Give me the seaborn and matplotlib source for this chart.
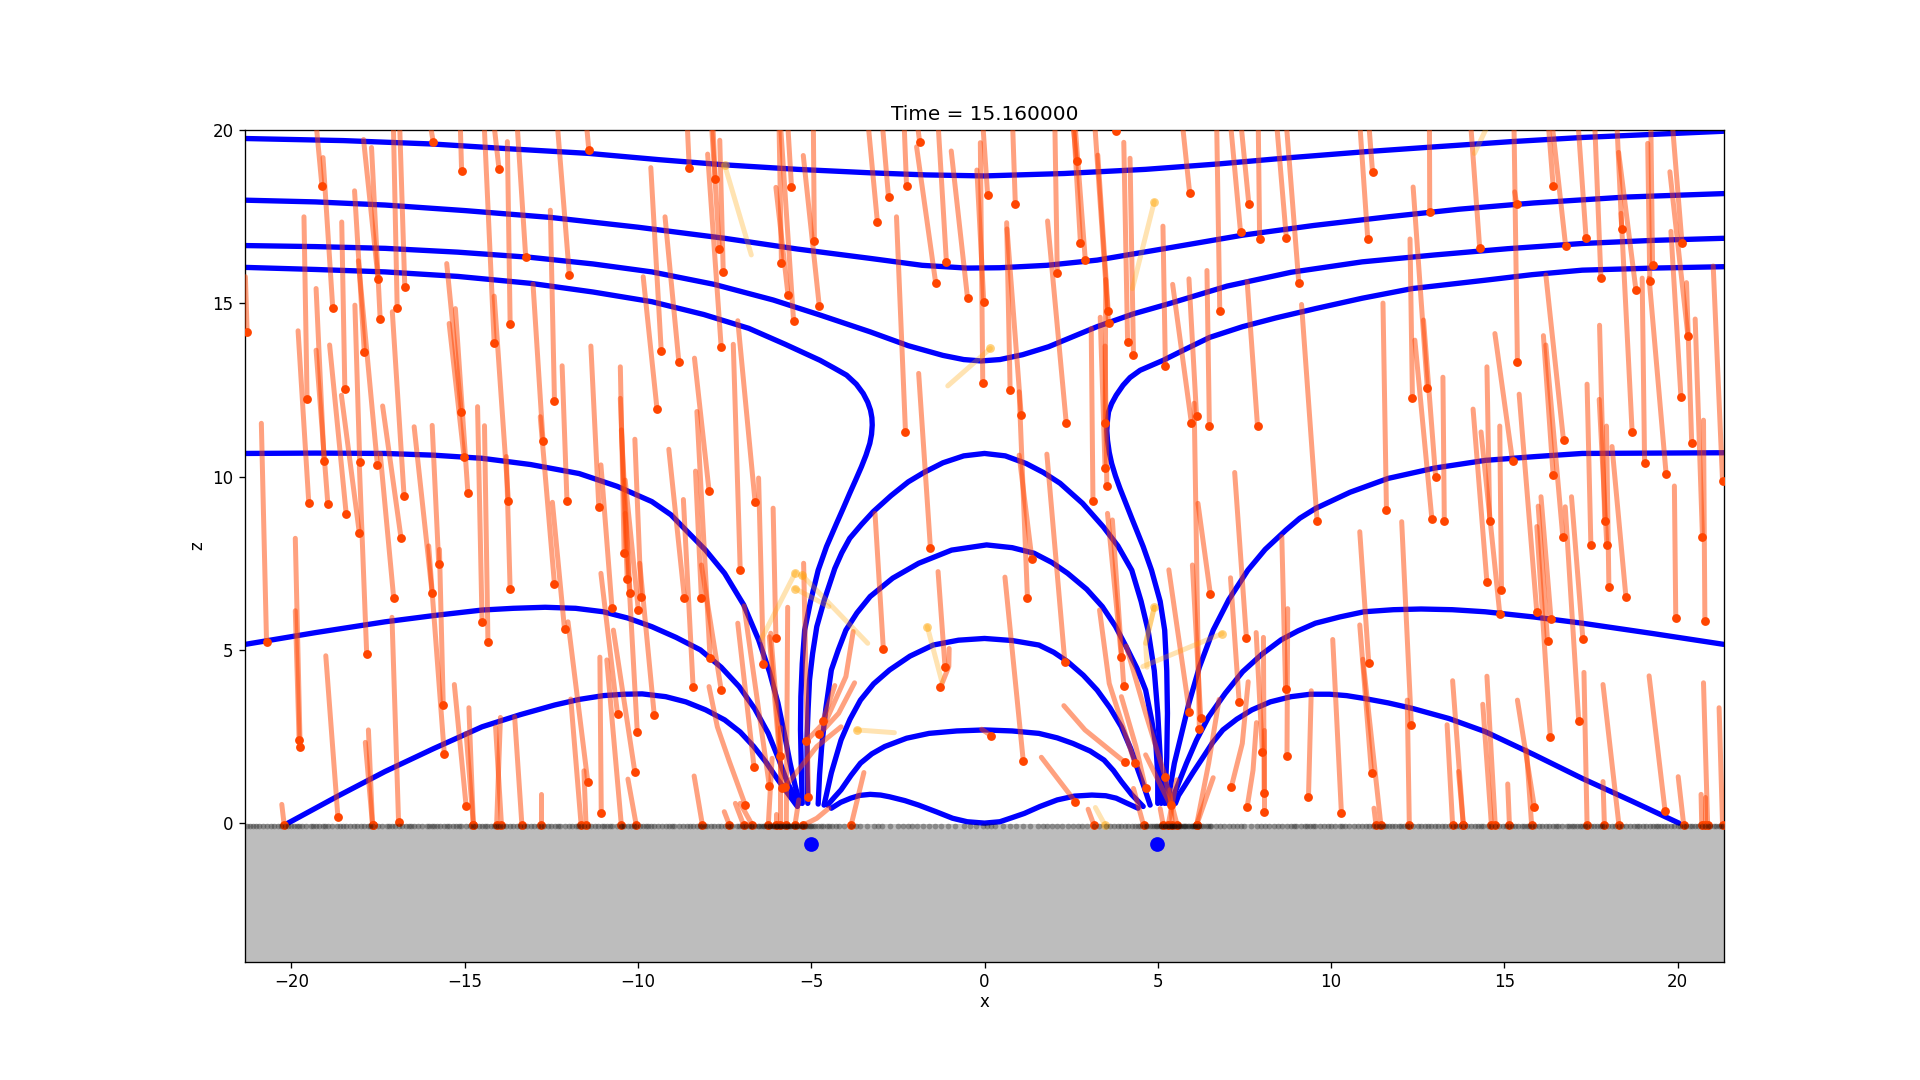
import pandas as pd
import matplotlib
matplotlib.use("Agg")
import matplotlib.pyplot as plt
import seaborn as sns

# tracers: (head x, head z, tail x, tail z)
tracers_upper_left = [
    (-21.28,14.17,-21.33,15.77),(-19.12,18.38,-19.29,20.2),(-18.81,14.88,-19.09,19.21),(-19.55,12.23,-19.64,17.5),
    (-18.46,12.52,-18.55,17.35),(-17.5,15.71,-17.92,19.73),(-17.44,14.54,-17.69,19.5),(-16.95,14.88,-17.06,20.2),
    (-16.73,15.46,-16.88,20.2),(-17.9,13.61,-18.18,18.25),(-17.52,10.33,-18.07,16.23),(-15.91,19.66,-16,20.2),
    (-15.09,18.81,-15.13,20.2),(-14.01,18.87,-14.16,20.2),(-14.15,13.85,-14.44,20.2),(-13.69,14.42,-13.77,19.67),
    (-13.24,16.33,-13.49,20.2),(-11.98,15.81,-12.33,20.2),(-11.42,19.44,-11.49,20.2),(-12.41,12.17,-12.53,17.69),
    (-12.74,11.02,-13.03,15.56),(-15.1,11.87,-15.52,16.15),(-15.02,10.57,-15.45,14.42),(-19.06,10.46,-19.29,15.43),
    (-18.03,10.41,-18.17,14.95),(-19.5,9.23,-19.81,14.21),(-18.95,9.2,-19.29,13.65),(-18.42,8.91,-18.9,13.8),
    (-16.75,9.43,-17.09,14.76),(-18.04,8.36,-18.56,12.35),(-16.84,8.24,-17.37,12.04),(-14.91,9.54,-15.27,14.85),
    (-13.74,9.31,-14.15,15.21),(-12.05,9.31,-12.19,13.2),(-11.13,9.12,-11.36,13.77),(-9.45,11.94,-9.85,15.77),
    (-9.33,13.64,-9.63,18.92),(-8.82,13.3,-9.22,17.5),(-8.52,18.9,-8.58,20.2),(-7.77,18.6,-7.84,20.2),
    (-7.65,16.56,-7.88,20.2),(-7.54,15.92,-7.64,19.71),(-7.6,13.75,-7.99,19.31),(-7.95,9.6,-8.37,13.42),
    (-6.62,9.26,-7.12,14.5),(-5.86,16.17,-5.93,20.2),(-5.67,15.25,-6.02,18.35),(-5.57,18.37,-5.68,20.2),
    (-5.51,14.5,-5.89,20.2),(-4.91,16.79,-4.94,20.2),(-4.77,14.94,-5.23,19.27),(-3.09,17.34,-3.36,20.2),
    (-2.77,18.06,-2.95,20.2),(-2.25,18.4,-2.32,20.2),(-1.87,19.65,-1.94,20.2),(-1.41,15.6,-1.96,19.52),
    (-1.1,16.21,-1.34,20.2),(-0.49,15.16,-0.96,19.4),(-2.28,11.28,-2.54,17.5),(-0.05,12.69,-0.12,19.64),
    (-0.02,15.03,-0.22,18.85),(0.09,18.14,-0.05,20.2),
]
tracers_lower_left = [
    (-20.72,5.22,-20.87,11.54),(-17.83,4.89,-18.04,10.29),(-17.05,6.49,-17.44,10.67),(-15.94,6.63,-16.46,11.44),
    (-15.75,7.47,-15.94,11.48),(-15.62,3.4,-15.73,7.9),(-15.59,2.0,-16.04,8.0),(-14.5,5.8,-14.63,12.02),
    (-14.33,5.22,-14.43,11.47),(-13.69,6.75,-13.8,10.58),(-12.41,6.89,-12.82,11.73),(-12.12,5.59,-12.47,9.26),
    (-10.75,6.2,-11.07,10.34),(-10.4,7.79,-10.51,13.17),(-10.31,7.04,-10.51,12.26),(-10.23,6.63,-10.48,11.35),
    (-9.99,6.15,-10.37,9.9),(-9.91,6.54,-10.09,11.08),(-8.66,6.49,-9.11,10.79),(-8.17,6.49,-8.34,10.16),
    (-8.41,3.94,-8.69,9.34),(-7.92,4.76,-8.3,11.88),(-7.6,3.85,-8.17,7.45),(-7.05,7.32,-7.25,13.82),
    (-6.38,4.58,-6.52,9.96),(-6.02,5.33,-6.1,9.09),(-2.92,5.04,-3.16,8.94),(-1.56,7.93,-1.9,12.98),
    (-1.14,4.52,-1.34,7.26),(0.2,2.52,-0.08,2.71),(-19.78,2.4,-19.89,6.13),(-19.75,2.21,-19.89,8.22),
    (-14.96,0.49,-15.3,4.0),(-18.66,0.17,-19.01,4.83),(-16.91,0.04,-17.1,5.94),(-20.21,-0.06,-20.28,0.54),
    (-17.66,-0.06,-17.78,2.69),(-17.66,-0.06,-17.87,2.33),(-14.75,-0.06,-14.88,3.33),(-14.75,-0.06,-14.96,2.59),
    (-14.08,-0.06,-13.97,3.05),(-13.94,-0.06,-14.11,2.78),(-13.35,-0.06,-13.56,3.07),(-12.81,-0.06,-12.81,0.83),
    (-11.64,-0.06,-11.94,3.58),(-11.5,-0.06,-11.56,1.51),(-11.45,1.2,-12.02,5.81),(-11.06,0.28,-11.1,4.79),
    (-10.59,3.14,-11.07,7.21),(-10.02,2.62,-10.37,8.94),(-10.09,1.47,-10.71,5.57),(-9.53,3.11,-9.95,7.5),
    (-10.48,-0.06,-10.9,4.71),(-10.05,-0.06,-10.29,1.27),(-8.14,-0.06,-8.38,1.36),(-7.36,-0.06,-7.51,0.33),
    (-6.95,-0.06,-7.19,0.57),(-6.7,-0.06,-7.05,0.57),(-6.65,1.61,-7.12,5.77),(-6.21,1.08,-6.94,6.27),
    (-5.83,1.0,-6.21,5.38),(-5.89,1.95,-6.17,5.48),(-6.03,-0.06,-6.03,0.26),(-6.24,-0.06,-6.13,1.87),
    (-5.72,-0.06,-5.68,6.23),(-5.89,-0.06,-5.89,2.78),(-5.08,0.76,-5.22,7.5),(-4.67,2.94,-4.32,3.97),
    (-3.85,-0.06,-3.48,1.46),(-5.47,-0.06,-5.36,0.67),
]
tracers_upper_right = [
    (0.89,17.86,0.81,20.2),(2.66,19.1,2.55,20.2),(2.77,16.73,2.57,20.2),(2.91,16.24,2.61,20.2),
    (2.1,15.89,2.03,20.2),(2.36,11.54,1.82,17.38),(3.8,19.97,3.75,20.3),(3.57,14.77,3.27,19.28),
    (3.58,14.43,3.18,20.2),(4.13,13.9,4.02,19.65),(4.3,13.5,4.2,19.19),(3.48,11.54,3.5,15.69),
    (3.48,10.24,3.34,14.6),(3.53,9.72,3.48,13.77),(3.13,9.31,3.08,14.28),(0.74,12.49,0.64,17.33),
    (1.06,11.77,0.65,17.15),(5.22,13.18,5.15,17.23),(5.92,18.2,5.71,20.2),(6.79,14.77,6.7,20.2),
    (7.39,17.05,7.1,20.2),(7.63,17.86,7.4,20.2),(7.94,16.87,7.9,20.2),(8.71,16.9,8.43,20.2),
    (9.07,15.6,8.71,20.2),(5.97,11.56,5.43,15.55),(6.12,11.74,5.9,15.71),(6.49,11.45,6.42,15.95),
    (7.88,11.45,7.58,15.63),(9.6,8.71,9.15,14.97),(11.06,16.87,10.83,20.2),(11.2,18.78,11.09,20.2),
    (11.6,9.05,11.5,15.01),(12.35,12.26,12.28,16.86),(12.78,12.55,12.37,18.36),(12.85,17.65,12.84,20.2),
    (13.02,9.98,12.67,14.52),(12.91,8.79,12.42,13.94),(13.27,8.71,13.23,12.87),(14.29,16.61,14.03,20.2),
    (14.58,8.71,14.5,13.17),(15.24,10.44,14.73,14.13),(15.38,13.32,15.28,20.2),(15.36,17.86,15.3,18.22),
    (16.41,18.4,16.27,20.2),(16.77,16.67,16.38,20.2),(17.36,16.9,17.13,20.2),(17.79,15.72,17.61,20.2),
    (18.39,17.16,18.25,20.2),(18.8,15.39,18.3,19.36),(19.2,15.66,19.14,19.62),(19.28,16.12,19.23,20.2),
    (20.13,16.73,19.85,20.2),(20.1,12.29,19.81,17.08),(20.3,14.07,19.78,18.8),(20.41,10.96,20.26,15.6),
    (18.69,11.3,18.37,17.6),(19.05,10.38,18.98,15.73),(19.67,10.09,19.18,15.73),(16.41,10.06,16.13,14.07),
    (16.71,11.05,16.2,15.82),(17.9,8.71,17.75,14.37),(20.72,8.26,20.51,14.55),(21.3,9.87,21.03,16.08),
    (16.69,8.26,16.2,13.8),
]
tracers_lower_right = [
    (1.37,7.61,1.0,10.62),(1.24,6.49,1.0,12.45),(2.32,4.64,1.8,10.65),(6.52,6.6,6.16,9.23),
    (5.91,3.22,5.32,7.31),(6.24,3.04,6.0,7.45),(6.2,2.71,6.05,12.12),(7.56,5.33,7.22,10.12),
    (7.35,3.49,7.1,7.08),(1.12,1.78,0.59,7.1),(3.95,4.8,3.55,8.94),(4.02,3.95,3.69,8.75),
    (2.62,0.62,1.64,1.9),(3.16,-0.06,2.99,0.4),(4.59,-0.06,4.3,1.0),(5.37,0.51,4.65,1.97),
    (5.16,-0.06,5.07,0.42),(5.3,-0.06,5.55,1.25),(5.42,-0.06,5.35,0.96),(5.56,-0.06,5.2,1.34),
    (6.12,-0.06,6.6,1.31),(8.69,3.86,8.58,8.27),(8.02,2.04,7.84,5.5),(8.07,0.88,8.05,5.36),
    (8.07,0.33,8.07,2.69),(8.73,1.95,8.75,6.19),(9.35,0.75,9.43,3.82),(10.3,0.3,10.05,5.3),
    (11.09,4.61,10.83,8.41),(11.17,1.44,10.83,5.72),(11.44,-0.06,10.92,4.73),(11.3,-0.06,11.24,0.43),
    (12.32,2.82,12.04,8.7),(12.26,-0.06,12.2,3.55),(13.51,-0.06,13.35,2.84),(13.82,-0.06,13.51,4.11),
    (13.82,-0.06,13.68,1.49),(14.5,6.95,14.1,11.95),(14.92,6.72,14.87,11.46),(14.87,6.05,14.33,11.29),
    (15.94,6.08,15.43,12.38),(16.25,5.25,15.98,9.15),(16.35,5.88,16.06,9.42),(17.5,8.02,17.39,12.67),
    (17.96,8.02,17.74,12.23),(18.02,6.82,17.95,11.46),(18.51,6.54,18.11,10.87),(19.95,5.91,19.91,9.73),
    (20.79,5.83,20.75,11.63),(17.27,5.3,16.94,9.42),(17.15,2.94,16.76,9.13),(16.33,2.48,15.94,8.56),
    (15.87,0.46,15.38,3.55),(17.39,-0.06,17.3,4.35),(17.89,-0.06,17.85,1.2),(18.31,-0.06,17.85,4.0),
    (15.15,-0.06,15.1,1.13),(15.79,-0.06,15.64,2.11),(14.63,-0.06,14.38,3.43),(14.74,-0.06,14.5,4.24),
    (19.64,0.36,19.18,4.25),(20.18,-0.06,20.02,1.34),(20.7,-0.06,20.68,0.83),(20.87,-0.06,20.75,4.05),
    (20.79,-0.06,20.79,0.76),(21.3,-0.06,21.2,3.33),
]
# paler, slower tracers
tracers_pale = [
    (-7.5,19.0,-6.73,16.4),(0.17,13.7,-1.06,12.62),(4.9,17.94,4.27,15.43),(14.6,20.3,14.14,19.33),
    (6.86,5.47,4.57,4.52),(3.48,-0.06,3.2,0.45),(-5.46,7.23,-6.45,5.29),(-5.26,7.15,-3.37,5.19),
    (-5.47,6.77,-4.49,6.25),(-1.65,5.67,-1.23,4.08),(-3.69,2.69,-2.6,2.61),(4.9,6.23,4.65,5.19),
]
pale_bend = [(4.9,6.23),(4.65,5.19),(4.69,4.5)]

# tracers that bend, tail first, head last
bent_tracers = [
    [(-7.95,3.94),(-7.71,2.78),(-7.36,1.77),(-6.9,0.51)],
    [(-1.02,5.04),(-1.03,4.52),(-1.27,3.92)],
    [(-3.79,5.53),(-4.0,4.23),(-4.56,2.98),(-5.15,2.36)],
    [(-3.75,4.05),(-4.21,3.17),(-4.77,2.56)],
    [(-4.49,0.43),(-4.84,0.14),(-5.23,-0.06)],
    [(-4.14,2.78),(-4.84,2.21),(-5.75,1.05)],
    [(2.29,3.39),(2.9,2.69),(4.06,1.75)],
    [(3.32,6.15),(3.6,4.03),(4.34,1.73)],
    [(4.09,5.11),(4.65,3.17),(5.22,1.32)],
    [(6.77,3.57),(6.47,1.73),(6.12,-0.06)],
    [(7.61,4.08),(7.44,2.3),(7.12,1.03)],
    [(7.85,2.9),(7.75,1.53),(7.58,0.46)],
    [(3.95,3.65),(4.37,2.21),(4.65,1.0)],
]

# magnetic field lines
line_top = [(-21.33,19.76),(-18.5,19.7),(-15.9,19.6),(-13.5,19.45),(-11.42,19.33),(-9.4,19.15),(-7.5,19.0),(-5.4,18.87),(-3.3,18.77),
            (-1.7,18.71),(0,18.68),(2.3,18.75),(4.65,18.87),(6.8,19.03),(8.85,19.21),(11,19.38),(13,19.52),(15.2,19.67),(17.25,19.79),
            (19.3,19.88),(21.33,19.97)]
line_second = [(-21.33,17.98),(-19.3,17.93),(-17.3,17.84),(-15,17.68),(-12.5,17.48),(-10,17.2),(-7.5,16.88),(-5.4,16.57),(-3.3,16.3),
               (-1.8,16.1),(-0.5,16.02),(0.445,16.03),(1.8,16.1),(3.25,16.25),(5.3,16.6),(7.45,16.97),(9.5,17.25),(11.65,17.5),
               (13.7,17.72),(15.85,17.9),(18.5,18.07),(21.33,18.17)]
line_third = [(-21.33,16.67),(-19.3,16.64),(-17.3,16.59),(-15.2,16.48),(-13.1,16.33),(-11.3,16.14),(-9.6,15.91),(-7.8,15.55),(-6.1,15.1),
              (-4.7,14.65),(-3.3,14.18),(-2.2,13.78),(-1.2,13.5),(-0.6,13.38),(-0.1,13.34),(0.445,13.38),(1.1,13.52),(1.85,13.75),
              (2.5,14.02),(3.25,14.33),(4.3,14.7),(5.35,15.0),(7,15.5),(8.85,15.9),(10.9,16.2),(13,16.4),(15.1,16.58),(17.25,16.73),
              (19.3,16.82),(21.33,16.88)]
line_sep_left = [(-21.33,16.04),(-19.3,15.98),(-17.3,15.91),(-15.2,15.78),(-13.1,15.58),(-11.3,15.33),(-9.6,15.05),(-8.1,14.68),(-6.8,14.28),
                 (-5.75,13.82),(-4.75,13.36),(-4.35,13.14),(-3.98,12.93),(-3.7,12.67),(-3.5,12.4),(-3.37,12.15),(-3.29,11.92),(-3.25,11.7),
                 (-3.24,11.49),(-3.26,11.22),(-3.31,10.96),(-3.42,10.62),(-3.55,10.29),(-3.72,9.9),(-3.89,9.52),(-4.08,9.08),(-4.27,8.65),
                 (-4.56,7.98),(-4.8,7.3),(-5.02,6.4),(-5.19,5.57),(-5.26,4.6),(-5.3,3.65),(-5.31,2.7),(-5.29,1.73),(-5.26,0.57)]
line_sep_right = [(21.33,16.06),(19.3,16.02),(17.25,15.96),(15.8,15.83),(14.45,15.67),(12.35,15.43),(10.9,15.15),(9.55,14.85),(8.4,14.58),
                  (7.45,14.33),(6.5,14.02),(5.76,13.66),(5.16,13.36),(4.49,13.07),(4.2,12.86),(4.0,12.64),(3.8,12.35),(3.67,12.11),(3.58,11.87),
                  (3.55,11.63),(3.53,11.33),(3.55,11.05),(3.6,10.7),(3.67,10.38),(3.78,10.02),(3.91,9.66),(4.08,9.23),(4.25,8.8),(4.58,7.98),
                  (4.82,7.3),(5.07,6.4),(5.2,5.57),(5.26,4.4),(5.28,3.17),(5.26,1.9),(5.2,0.57)]
arch_105 = [(-5.1,0.57),(-5.12,1.5),(-5.12,2.5),(-5.09,3.3),(-5.05,4.13),(-4.96,4.9),(-4.84,5.67),(-4.62,6.45),(-4.32,7.35),(-4.12,7.8),
            (-3.89,8.22),(-3.55,8.62),(-3.21,8.99),(-2.7,9.45),(-2.2,9.85),(-1.75,10.12),(-1.2,10.4),(-0.6,10.6),(0,10.67),(0.6,10.6),(1.2,10.38),
            (1.7,10.12),(2.18,9.81),(2.83,9.23),(3.43,8.55),(3.85,8.0),(4.25,7.3),(4.52,6.4),(4.72,5.57),(4.9,4.4),(5.0,3.17),(5.07,1.9),
            (5.1,0.57)]
arch_8 = [(-4.8,0.55),(-4.76,1.4),(-4.7,2.2),(-4.58,3.3),(-4.42,4.42),(-4.22,5.0),(-4.0,5.57),(-3.68,6.07),(-3.3,6.54),(-2.65,7.07),
          (-1.9,7.5),(-0.95,7.88),(0.06,8.03),(0.8,7.95),(1.43,7.79),(1.95,7.52),(2.4,7.21),(2.95,6.75),(3.4,6.25),(3.78,5.68),(4.09,5.09),
          (4.4,4.47),(4.65,3.84),(4.82,3.0),(4.95,2.2),(5.0,1.4),(5.0,0.57)]
arch_5 = [(-4.63,0.52),(-4.42,1.45),(-4.14,2.4),(-3.88,3.0),(-3.58,3.55),(-3.2,4.02),(-2.74,4.42),(-2.15,4.82),(-1.48,5.14),(-0.75,5.28),
          (0,5.33),(0.8,5.27),(1.57,5.14),(2.0,4.93),(2.4,4.66),(2.85,4.27),(3.25,3.84),(3.62,3.33),(3.95,2.78),(4.22,2.15),(4.43,1.53),
          (4.62,1.0),(4.78,0.52)]
arch_27 = [(-4.53,0.52),(-4.33,0.75),(-4.14,0.96),(-3.85,1.38),(-3.58,1.73),(-3.25,2.0),(-2.88,2.21),(-2.25,2.45),(-1.6,2.59),(-0.8,2.66),
           (0,2.69),(0.8,2.66),(1.57,2.59),(2.1,2.46),(2.55,2.3),(3.05,2.08),(3.45,1.82),(3.72,1.52),(3.95,1.2),(4.25,0.82),(4.58,0.48)]
dip_low = [(-4.42,0.43),(-4.15,0.6),(-3.86,0.72),(-3.6,0.8),(-3.3,0.83),(-3.0,0.81),(-2.74,0.76),(-2.3,0.65),(-1.9,0.52),(-1.4,0.33),
           (-0.92,0.14),(-0.5,0.04),(0,0),(0.445,0.04),(0.8,0.16),(1.15,0.28),(1.6,0.48),(2.1,0.67),(2.6,0.78),(3.1,0.81),(3.5,0.79),
           (3.8,0.72),(4.1,0.58),(4.43,0.43)]
outer_105_left = [(-21.33,10.67),(-19.3,10.68),(-17.3,10.67),(-15.9,10.62),(-14.5,10.53),(-13.1,10.35),(-11.7,10.09),(-10.6,9.72),(-9.6,9.28),
                  (-9.05,8.9),(-8.62,8.46),(-8.05,7.88),(-7.5,7.21),(-6.95,6.3),(-6.52,5.29),(-6.2,4.35),(-5.96,3.46),(-5.78,2.6),
                  (-5.61,1.73),(-5.47,1.1),(-5.33,0.57)]
outer_105_right = [(21.33,10.69),(19.3,10.68),(17.25,10.67),(15.9,10.58),(14.45,10.47),(13,10.25),(11.65,9.95),(10.55,9.55),(9.55,9.08),
                   (9.1,8.8),(8.7,8.46),(8.1,7.9),(7.6,7.3),(7.05,6.45),(6.6,5.57),(6.2,4.5),(5.9,3.46),(5.68,2.55),(5.48,1.73),(5.37,1.1),
                   (5.28,0.57)]
outer_6_left = [(-21.33,5.16),(-19.3,5.5),(-17.3,5.81),(-15.9,5.99),(-14.5,6.15),(-13.6,6.2),(-12.68,6.23),(-11.8,6.2),(-11,6.1),(-10.3,5.92),
                (-9.6,5.67),(-8.9,5.36),(-8.2,5),(-7.6,4.5),(-7.08,3.94),(-6.63,3.3),(-6.24,2.59),(-5.94,1.85),(-5.68,1.15),(-5.52,0.85),(-5.4,0.57)]
outer_6_right = [(21.33,5.16),(19.3,5.47),(17.25,5.77),(15.85,5.95),(14.45,6.1),(13.5,6.16),(12.6,6.18),(11.8,6.16),(10.95,6.1),(10.25,5.95),
                 (9.55,5.77),(9.05,5.55),(8.56,5.29),(8,4.87),(7.45,4.37),(6.95,3.75),(6.47,3.07),(6.12,2.4),(5.83,1.73),(5.58,1.1),(5.37,0.57)]
outer_37_left = [(-20.1,0),(-18.7,0.76),(-17.3,1.49),(-15.9,2.15),(-14.5,2.78),(-13.4,3.13),(-12.4,3.41),(-11.7,3.57),(-11,3.68),(-10.4,3.72),
                 (-9.88,3.73),(-9.2,3.65),(-8.62,3.5),(-8.05,3.27),(-7.5,2.98),(-7.05,2.63),(-6.66,2.21),(-6.3,1.75),(-5.96,1.25),(-5.65,0.82),
                 (-5.4,0.48)]
outer_37_right = [(20.04,0),(18.65,0.65),(17.25,1.29),(15.85,1.98),(14.45,2.64),(13.4,3.02),(12.35,3.31),(11.65,3.47),(10.95,3.6),(10.45,3.68),
                  (9.96,3.72),(9.4,3.72),(8.85,3.65),(8.25,3.5),(7.72,3.27),(7.28,3.0),(6.88,2.69),(6.58,2.32),(6.32,1.92),(6.03,1.48),(5.76,1.05),
                  (5.6,0.8),(5.51,0.57)]

# dots along the surface
surface_x = [
    -21.28,-21.1,-20.95,-20.7,-20.5,-20.3,-20.2,-20.02,-19.85,-19.7,-19.45,-19.3,-19.1,-18.95,-18.7,-18.5,-18.42,-18.2,-18.0,-17.8,
    -17.66,-17.5,-17.25,-17.1,-16.9,-16.7,-16.55,-16.35,-16.1,-15.95,-15.8,-15.6,-15.45,-15.25,-15.1,-14.85,-14.75,-14.7,-14.5,-14.35,
    -14.15,-14.05,-13.9,-13.7,-13.5,-13.3,-13.1,-12.9,-12.8,-12.6,-12.4,-12.25,-12.0,-11.8,-11.65,-11.55,-11.45,-11.25,-11.05,-10.9,
    -10.75,-10.5,-10.4,-10.2,-10.05,-9.85,-9.7,-9.55,-9.3,-9.1,-8.95,-8.7,-8.5,-8.3,-8.15,-8.0,-7.8,-7.6,-7.4,-7.35,-7.15,-7.0,-6.95,
    -6.8,-6.7,-6.55,-6.45,-6.38,-6.3,-6.24,-6.18,-6.12,-6.08,-6.03,-5.98,-5.92,-5.88,-5.83,-5.78,-5.72,-5.68,-5.63,-5.58,-5.52,-5.47,
    -5.42,-5.36,-5.3,-5.23,-5.18,-5.1,-5.0,-4.9,-4.8,-4.65,-4.55,-4.4,-4.2,-3.85,-3.6,-3.2,-2.95,-2.5,-2.2,-1.95,-1.6,-1.25,-1.05,
    -0.6,-0.25,-0.05,0.08,0.3,0.75,1.1,1.55,1.8,2.1,2.4,2.7,2.95,3.16,3.5,3.75,3.95,4.15,4.35,4.5,4.59,4.7,4.82,4.9,4.98,5.05,5.1,
    5.16,5.2,5.25,5.3,5.34,5.38,5.42,5.46,5.5,5.56,5.6,5.68,5.75,5.82,5.9,5.98,6.05,6.12,6.18,6.3,6.45,6.55,6.8,7.05,7.3,7.5,7.85,
    8.1,8.35,8.6,8.85,9.0,9.25,9.4,9.55,9.8,10.0,10.25,10.4,10.65,10.9,11.0,11.2,11.3,11.44,11.6,11.75,11.95,12.1,12.26,12.5,12.7,
    12.9,13.1,13.3,13.51,13.7,13.82,14.05,14.25,14.4,14.63,14.74,14.95,15.15,15.3,15.5,15.65,15.79,16.0,16.2,16.4,16.55,16.8,16.95,
    17.1,17.25,17.39,17.6,17.75,17.89,18.1,18.31,18.5,18.75,18.9,19.1,19.3,19.45,19.6,19.8,20.0,20.18,20.35,20.5,20.7,20.79,20.87,
    21.05,21.2,21.3,
]
surface_x_more = [
    -21.2,-21.02,-20.82,-20.6,-20.4,-20.1,-19.93,-19.78,-19.58,-19.38,-19.2,-19.02,-18.82,-18.6,-18.3,-18.1,-17.9,-17.72,-17.38,-17.18,
    -17.0,-16.8,-16.62,-16.45,-16.22,-16.02,-15.88,-15.7,-15.52,-15.35,-15.18,-14.95,-14.6,-14.42,-14.25,-14.1,-13.98,-13.8,-13.6,-13.4,
    -13.2,-13.0,-12.7,-12.5,-12.32,-12.12,-11.9,-11.72,-11.35,-11.15,-10.98,-10.82,-10.62,-10.45,-10.3,-10.12,-9.95,-9.78,-9.62,-9.42,
    -9.2,-9.02,-8.82,-8.6,-8.4,-8.22,-8.08,-7.9,-7.7,-7.5,-7.28,-7.08,-6.88,-6.75,-6.62,-6.5,-6.35,-6.2,-6.1,-6.0,-5.9,-5.8,-5.7,-5.6,
    -5.5,-5.4,-5.28,-5.15,-5.05,-4.95,-4.72,-4.48,-4.3,-4.05,-3.72,-3.4,-3.08,-2.72,-2.35,-2.08,-1.78,-1.42,-0.85,-0.42,0.18,0.52,0.92,
    1.32,1.68,1.95,2.25,2.55,2.82,3.3,3.62,3.85,4.05,4.25,4.42,4.65,4.78,4.95,5.08,5.22,5.32,5.4,5.48,5.58,5.65,5.72,5.8,5.88,5.95,
    6.02,6.08,6.15,6.25,6.38,6.5,6.68,6.92,7.18,7.4,7.68,7.98,8.22,8.48,8.72,8.92,9.12,9.32,9.48,9.68,9.9,10.12,10.32,10.52,10.78,
    11.1,11.38,11.52,11.68,11.85,12.02,12.18,12.38,12.6,12.8,13.0,13.2,13.4,13.6,13.92,14.15,14.32,14.52,14.85,15.05,15.22,15.4,15.58,
    15.72,15.9,16.1,16.3,16.48,16.68,16.88,17.02,17.18,17.32,17.5,17.68,17.82,18.0,18.2,18.4,18.62,18.82,19.0,19.2,19.38,19.52,19.7,
    19.9,20.08,20.25,20.42,20.6,20.95,21.12,21.25,
]
surface_z = -0.08

sources_x = [-5.0, 4.97]
sources_z = [-0.6, -0.6]
ground_x = [-21.34, 21.34]
ground_top = -0.02
ground_bottom = -4

x_ticks = [-20, -15, -10, -5, 0, 5, 10, 15, 20]
z_ticks = [0, 5, 10, 15, 20]
time_label = "Time = 15.160000"


def lines_frame(lines):
    rows = []
    for i, pts in enumerate(lines):
        for x, z in pts:
            rows.append({"id": i, "x": x, "z": z})
    return pd.DataFrame(rows)


sns.set_theme(style="ticks", rc={
    "axes.edgecolor": "black", "axes.labelcolor": "black", "text.color": "black",
    "xtick.color": "black", "ytick.color": "black", "axes.linewidth": 0.8,
    "xtick.major.size": 3.5, "ytick.major.size": 3.5, "xtick.major.width": 0.8, "ytick.major.width": 0.8,
    "font.size": 10, "axes.labelsize": 10, "xtick.labelsize": 10, "ytick.labelsize": 10, "axes.titlesize": 12,
})
plt.rcParams["font.family"] = "DejaVu Sans"

fig = plt.figure(figsize=(16, 9), dpi=120)
ax = fig.add_axes([245.3 / 1920, 1 - 961.7 / 1080, 1478.4 / 1920, 831.5 / 1080])

ax.fill_between(ground_x, ground_top, ground_bottom, color="#bdbdbd", lw=0, zorder=1)

field_lines = [line_top, line_second, line_third, line_sep_left, line_sep_right, arch_105, arch_8, arch_5, arch_27,
               dip_low, outer_105_left, outer_105_right, outer_6_left, outer_6_right, outer_37_left, outer_37_right]
sns.lineplot(data=lines_frame(field_lines), x="x", y="z", units="id", estimator=None, sort=False,
             color="blue", lw=3.2, legend=False, ax=ax, zorder=2)

tracers = tracers_upper_left + tracers_lower_left + tracers_upper_right + tracers_lower_right
straight = [[(t[2], t[3]), (t[0], t[1])] for t in tracers]
sns.lineplot(data=lines_frame(straight + bent_tracers), x="x", y="z", units="id", estimator=None, sort=False,
             color="orangered", alpha=0.5, lw=3, legend=False, ax=ax, zorder=3)

pale = [[(t[2], t[3]), (t[0], t[1])] for t in tracers_pale]
sns.lineplot(data=lines_frame(pale + [pale_bend]), x="x", y="z", units="id", estimator=None, sort=False,
             color="orange", alpha=0.3, lw=3, legend=False, ax=ax, zorder=3)

heads = pd.DataFrame({"x": [t[0] for t in tracers] + [b[-1][0] for b in bent_tracers],
                      "z": [t[1] for t in tracers] + [b[-1][1] for b in bent_tracers]})
sns.scatterplot(data=heads, x="x", y="z", color="orangered", s=28, linewidth=0, legend=False, ax=ax, zorder=4)

pale_heads = pd.DataFrame({"x": [t[0] for t in tracers_pale], "z": [t[1] for t in tracers_pale]})
sns.scatterplot(data=pale_heads, x="x", y="z", color="orange", alpha=0.5, s=28, linewidth=0, legend=False, ax=ax, zorder=4)

all_surface = surface_x + surface_x_more
surface = pd.DataFrame({"x": all_surface, "z": [surface_z] * len(all_surface)})
sns.scatterplot(data=surface, x="x", y="z", color="black", alpha=0.28, s=12, linewidth=0, legend=False, ax=ax, zorder=5)

sources = pd.DataFrame({"x": sources_x, "z": sources_z})
sns.scatterplot(data=sources, x="x", y="z", color="blue", s=78, linewidth=0, legend=False, ax=ax, zorder=6)

ax.set_xlim(-21.333, 21.333)
ax.set_ylim(-4, 20)
ax.set_xticks(x_ticks)
ax.set_yticks(z_ticks)
ax.set_xlabel("x", labelpad=1)
ax.set_ylabel("z")
ax.set_title(time_label)

fig.savefig("out.png", dpi=120)
